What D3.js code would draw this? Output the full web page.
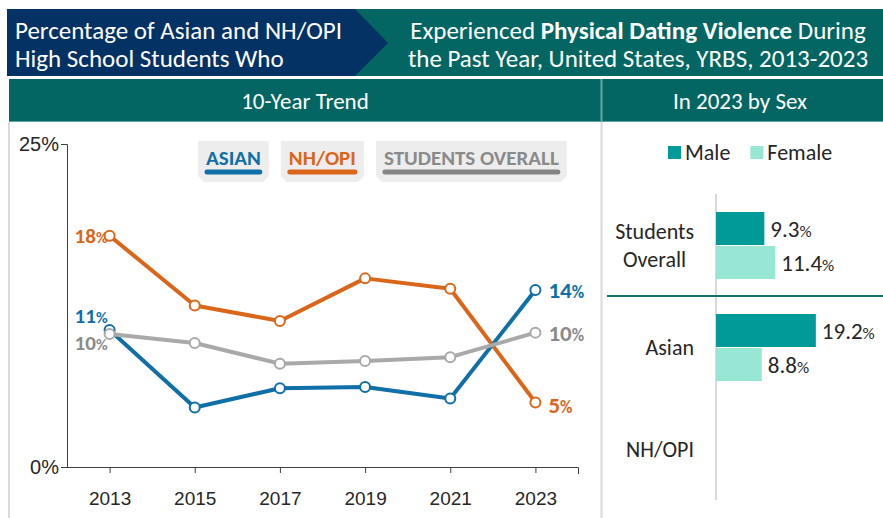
<!DOCTYPE html>
<html>
<head>
<meta charset="utf-8">
<script src="https://cdn.jsdelivr.net/npm/d3@7"></script>
<style>
  body { margin: 0; background: #fff; }
  svg { display: block; font-family: Carlito, Calibri, "Open Sans", sans-serif; }
</style>
</head>
<body>
<svg id="chart" width="883" height="518"></svg>
<script>
// data
const years = [2013, 2015, 2017, 2019, 2021, 2023];
const asian = [10.6, 4.6, 6.1, 6.2, 5.3, 13.7];
const nhopi = [17.9, 12.5, 11.3, 14.6, 13.8, 5.0];
const overall = [10.3, 9.6, 8.0, 8.2, 8.5, 10.4];
const yTicks = [0, 25];

const sexGroups = [["Students", "Overall"], ["Asian"], ["NH/OPI"]];
const male = [9.3, 19.2, null];
const female = [11.4, 8.8, null];

const teal = '#036662', navy = '#053264';
const svg = d3.select('#chart');

// header
svg.append('rect').attr('x', 7).attr('y', 9).attr('width', 876).attr('height', 67).attr('fill', teal);
svg.append('path').attr('d', 'M7,9 H355 L388,43 L355,76 H7 Z').attr('fill', navy);
const h1 = svg.append('text').attr('fill', '#fff').attr('font-size', 25);
h1.append('tspan').attr('x', 15).attr('y', 39).text('Percentage of Asian and NH/OPI');
h1.append('tspan').attr('x', 15).attr('y', 67).text('High School Students Who');
const h2 = svg.append('text').attr('fill', '#fff').attr('font-size', 25).attr('text-anchor', 'middle');
const l1 = h2.append('tspan').attr('x', 638).attr('y', 39);
l1.append('tspan').text('Experienced ');
l1.append('tspan').attr('font-weight', 'bold').text('Physical Dating Violence');
l1.append('tspan').text(' During');
h2.append('tspan').attr('x', 638).attr('y', 67).text('the Past Year, United States, YRBS, 2013-2023');

// panel bands
svg.append('rect').attr('x', 9).attr('y', 79).attr('width', 874).attr('height', 43).attr('fill', teal);
svg.append('line').attr('x1', 9).attr('x2', 883).attr('y1', 121.5).attr('y2', 121.5).attr('stroke', '#5ea8a4');
svg.append('line').attr('x1', 601.5).attr('x2', 601.5).attr('y1', 79).attr('y2', 122).attr('stroke', '#5ea8a4').attr('stroke-width', 2);
svg.append('text').attr('x', 305).attr('y', 109).attr('text-anchor', 'middle').attr('fill', '#fff').attr('font-size', 23).text('10-Year Trend');
svg.append('text').attr('x', 740).attr('y', 109).attr('text-anchor', 'middle').attr('fill', '#fff').attr('font-size', 23).text('In 2023 by Sex');

// panel borders
svg.append('line').attr('x1', 9).attr('x2', 9).attr('y1', 122).attr('y2', 518).attr('stroke', '#d9d9d9').attr('stroke-width', 2);
svg.append('line').attr('x1', 601.5).attr('x2', 601.5).attr('y1', 122).attr('y2', 518).attr('stroke', '#d9d9d9').attr('stroke-width', 2);

// ---- line chart
const x = d3.scalePoint().domain(years).range([67, 578]).padding(0.5);
const y = d3.scaleLinear().domain([0, 25]).range([467, 144]);

const gy = svg.append('g').attr('transform', 'translate(67,0)')
  .call(d3.axisLeft(y).tickValues(yTicks).tickSize(6).tickFormat(d => d + '%'));
gy.select('.domain').attr('d', 'M-6,144.5H0.5V467');
gy.selectAll('text').attr('font-size', 20).attr('fill', '#262626').attr('font-family', null).attr('x', -8);
gy.selectAll('line').attr('stroke', '#404040');
gy.select('.domain').attr('stroke', '#404040');

const gx = svg.append('g').attr('transform', 'translate(0,467)')
  .call(d3.axisBottom(x).tickSize(6).tickSizeOuter(0));
gx.select('.domain').attr('d', 'M67,0.5H578.5V7').attr('stroke', '#404040');
gx.selectAll('line').attr('stroke', '#404040');
gx.selectAll('text').attr('font-size', 19).attr('fill', '#262626').attr('font-family', null).attr('dy', '1.5em');

const series = [
  { name: 'ASIAN', values: asian, line: '#0f6fa6', text: '#0f6fa6', dl: -14, dr: 0 },
  { name: 'NH/OPI', values: nhopi, line: '#db6619', text: '#db6619', dl: 0, dr: 3 },
  { name: 'STUDENTS OVERALL', values: overall, line: '#a9a9a9', text: '#8a8a8a', dl: 9, dr: 0 }
];
const drawOrder = [series[1], series[0], series[2]];
const line = d3.line().x((d, i) => x(years[i])).y(d => y(d));

drawOrder.forEach(s => {
  svg.append('path').datum(s.values).attr('d', line)
    .attr('fill', 'none').attr('stroke', s.line).attr('stroke-width', 4).attr('stroke-linejoin', 'round');
});

function pctLabel(sel, val, small) {
  sel.append('tspan').text(Math.round(val));
  sel.append('tspan').attr('font-size', small).text('%');
}

series.forEach(s => {
  const first = s.values[0], last = s.values[s.values.length - 1];
  const lt = svg.append('text').attr('x', x(years[0]) - 2).attr('y', y(first) + s.dl).attr('dy', '0.33em')
    .attr('text-anchor', 'end').attr('font-weight', 'bold').attr('font-size', 21).attr('fill', s.text);
  pctLabel(lt, first, 16);
  const rt = svg.append('text').attr('x', x(years[5]) + 13).attr('y', y(last) + s.dr).attr('dy', '0.35em')
    .attr('font-weight', 'bold').attr('font-size', 23).attr('fill', s.text);
  pctLabel(rt, last, 17);
});

drawOrder.forEach(s => {
  svg.selectAll(null).data(s.values).enter().append('circle')
    .attr('cx', (d, i) => x(years[i])).attr('cy', d => y(d)).attr('r', 5)
    .attr('fill', '#fff').attr('stroke', s.line).attr('stroke-width', 2);
});

// legend boxes
let lx = 198;
series.forEach(s => {
  const g = svg.append('g');
  const t = g.append('text').attr('x', lx + 8).attr('y', 165).attr('font-weight', 'bold')
    .attr('font-size', 21).attr('fill', s.text).text(s.name);
  const w = t.node().getComputedTextLength();
  const bw = w + 16;
  g.insert('path', 'text')
    .attr('d', `M${lx},141 H${lx + bw} V176 L${lx + bw - 6},182 H${lx + 6} L${lx},176 Z`)
    .attr('fill', '#ededed');
  g.append('line').attr('x1', lx + 9).attr('x2', lx + bw - 9).attr('y1', 172).attr('y2', 172)
    .attr('stroke', s.line === '#a9a9a9' ? '#858585' : s.line).attr('stroke-width', 5).attr('stroke-linecap', 'round');
  lx += bw + 12;
});

// ---- bars by sex
const bx = d3.scaleLinear().domain([0, 25]).range([716, 846]);
const by = d3.scaleBand().domain(d3.range(sexGroups.length)).range([194, 500]);
const barH = 34;

svg.append('line').attr('x1', 716).attr('x2', 716).attr('y1', 194).attr('y2', 500)
  .attr('stroke', '#d9d9d9').attr('stroke-width', 2);
svg.append('line').attr('x1', 607).attr('x2', 883).attr('y1', by(1)).attr('y2', by(1))
  .attr('stroke', '#15706b').attr('stroke-width', 2);

const bars = [
  { key: 'Male', values: male, color: '#009a98', off: -barH },
  { key: 'Female', values: female, color: '#98e6d4', off: 0 }
];

bars.forEach(b => {
  b.values.forEach((v, i) => {
    if (v == null) return;
    const cy = by(i) + by.bandwidth() / 2;
    svg.append('rect').attr('x', bx(0)).attr('y', cy + b.off + 1).attr('width', bx(v) - bx(0)).attr('height', barH - 1)
      .attr('fill', b.color);
    const t = svg.append('text').attr('x', bx(v) + 6).attr('y', cy + b.off + barH / 2 + 1).attr('dy', '0.35em')
      .attr('font-size', 23).attr('fill', '#262626');
    t.append('tspan').text(v.toFixed(1));
    t.append('tspan').attr('font-size', 17).text('%');
  });
});

sexGroups.forEach((lines, i) => {
  const cy = by(i) + by.bandwidth() / 2;
  const t = svg.append('text').attr('font-size', 22).attr('fill', '#262626').attr('text-anchor', 'middle');
  const spans = lines.map((ln, j) => t.append('tspan').attr('y', cy + (j - (lines.length - 1) / 2) * 28).attr('dy', '0.35em').text(ln));
  const maxW = d3.max(spans, s => s.node().getComputedTextLength());
  spans.forEach(s => s.attr('x', 694 - maxW / 2));
});

// sex legend
let sx = 668;
bars.forEach(b => {
  svg.append('rect').attr('x', sx).attr('y', 146).attr('width', 13).attr('height', 13).attr('fill', b.color);
  const t = svg.append('text').attr('x', sx + 17).attr('y', 152).attr('dy', '0.35em').attr('font-size', 22)
    .attr('fill', '#262626').text(b.key);
  sx += 17 + t.node().getComputedTextLength() + 20;
});
</script>
</body>
</html>
